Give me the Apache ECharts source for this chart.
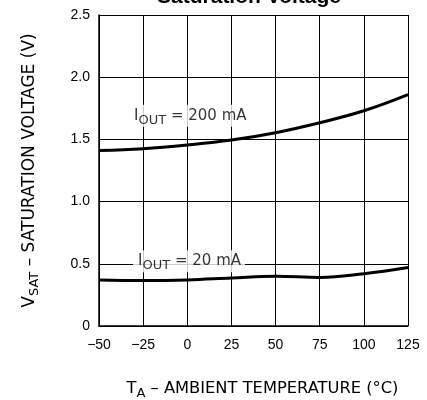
<!DOCTYPE html>
<html><head><meta charset="utf-8">
<script src="https://cdn.jsdelivr.net/npm/echarts@6/dist/echarts.min.js"></script>
<style>html,body{margin:0;padding:0;background:#fff}#c{width:427px;height:400px}</style>
</head><body><div id="c"></div>
<script>
var temps = [-50, -25, 0, 25, 50, 75, 100, 125];
var vsat200 = [1.41, 1.425, 1.455, 1.495, 1.554, 1.634, 1.73, 1.86];
var vsat20 = [0.37, 0.365, 0.37, 0.386, 0.40, 0.39, 0.42, 0.47];
var xTicks = [-50, -25, 0, 25, 50, 75, 100, 125];
var yTicks = [0, 0.5, 1.0, 1.5, 2.0, 2.5];
var labelPos = [[-33, 1.69], [-30.7, 0.52]];
var labelText = ['200 mA', '20 mA'];

function pairs(xs, ys){ return xs.map(function(x,i){return [x, ys[i]];}); }
var F = 'Liberation Sans';
var LF = 'DejaVu Sans';
var labRich = {
  m: {fontFamily: LF, fontSize: 15, color: '#000'},
  s: {fontFamily: LF, fontSize: 13, color: '#000', padding: [9,0,0,0]}
};
var xRich = {
  m: {fontFamily: LF, fontSize: 16.3, color: '#000'},
  s: {fontFamily: LF, fontSize: 13, color: '#000', padding: [10,0,0,0]}
};
var yRich = {
  m: {fontFamily: LF, fontSize: 17, color: '#000'},
  s: {fontFamily: LF, fontSize: 13, color: '#000', padding: [10,0,0,0]}
};
var chart = echarts.init(document.getElementById('c'));
chart.setOption({
  animation: false,
  title: {text: 'Saturation Voltage', left: 244, textAlign: 'center', top: -18,
    textStyle: {fontFamily: F, fontWeight: 'bold', fontSize: 21, color: '#000'}},
  grid: {left: 99, right: 19, top: 15, bottom: 74, show: false, containLabel: false, outerBoundsMode: 'none'},
  xAxis: {type: 'value', min: -50, max: 125, interval: 25,
    axisLine: {show: true, onZero: false, lineStyle: {color: '#000', width: 1.5}},
    axisTick: {show: false},
    splitLine: {show: true, lineStyle: {color: '#000', width: 1}},
    axisLabel: {margin: 12, fontFamily: F, fontSize: 14, color: '#000',
      formatter: function(v){ return String(v).replace('-', '\u2212'); }},
    name: '{m|T}{s|A}{m| \u2013 AMBIENT TEMPERATURE (\u00B0C)}',
    nameLocation: 'middle', nameGap: 51,
    nameTextStyle: {rich: xRich, padding: [0,0,0,18]}
  },
  yAxis: {type: 'value', min: 0, max: 2.5, interval: 0.5,
    axisLine: {show: true, onZero: false, lineStyle: {color: '#000', width: 1.5}},
    axisTick: {show: false},
    splitLine: {show: true, lineStyle: {color: '#000', width: 1}},
    axisLabel: {margin: 9, fontFamily: F, fontSize: 14, color: '#000',
      formatter: function(v){ return v === 0 ? '0' : v.toFixed(1); }},
    name: '{m|V}{s|SAT}{m| \u2013 SATURATION VOLTAGE (V)}',
    nameLocation: 'middle', nameGap: 58, nameRotate: 90,
    nameTextStyle: {rich: yRich}
  },
  series: [
    {type: 'line', data: pairs(temps, vsat200), smooth: 0.4, symbol: 'none',
      lineStyle: {color: '#000', width: 3}, z: 3},
    {type: 'line', data: pairs(temps, vsat20), smooth: 0.4, symbol: 'none',
      lineStyle: {color: '#000', width: 3}, z: 3},
    {type: 'scatter', data: labelPos.map(function(p, i){ return {value: p, name: labelText[i]}; }),
      symbol: 'rect', symbolSize: 1, itemStyle: {color: 'rgba(0,0,0,0)'}, z: 4, silent: true,
      label: {show: true, position: 'inside', align: 'left', verticalAlign: 'middle',
        backgroundColor: '#fff', padding: [0,4,0,5],
        formatter: function(p){ return '{m|I}{s|OUT}{m| = ' + p.name + '}'; }, rich: labRich}}
  ]
});
</script></body></html>
